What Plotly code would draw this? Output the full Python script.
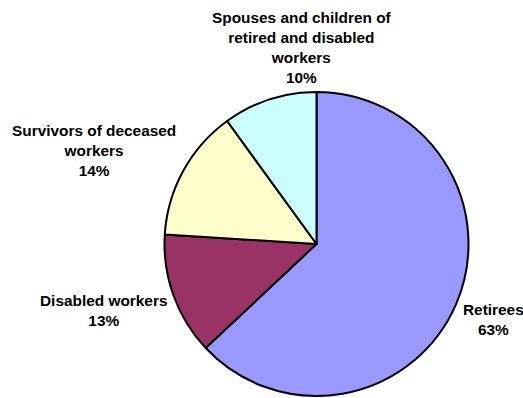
import plotly.graph_objects as go

# Share of beneficiaries by category
categories = [
    "Retirees",
    "Disabled workers",
    "Survivors of deceased workers",
    "Spouses and children of retired and disabled workers",
]
# Line-wrapped versions of the category names for the outside labels
label_lines = [
    ["Retirees"],
    ["Disabled workers"],
    ["Survivors of deceased", "workers"],
    ["Spouses and children of", "retired and disabled", "workers"],
]
shares = [63, 13, 14, 10]
colors = ["#9999FF", "#993366", "#FFFFCC", "#CCFFFF"]

W, H = 523, 398

fig = go.Figure(
    go.Pie(
        labels=categories,
        values=shares,
        sort=False,
        direction="clockwise",
        rotation=0,
        textinfo="none",
        hoverinfo="label+percent",
        marker=dict(colors=colors, line=dict(color="black", width=2)),
        domain=dict(x=[164.5 / W, 468.5 / W], y=[2 / H, 306 / H]),
        showlegend=False,
    )
)

# Label anchor points (pixel centres of each text block)
label_pos = [(493, 319), (103, 310), (94, 150), (302, 47)]

for lines, share, (px, py) in zip(label_lines, shares, label_pos):
    text = "<br>".join(f"<b>{ln}</b>" for ln in lines) + f"<br><b>{share}%</b>"
    fig.add_annotation(
        x=px / W,
        y=1 - py / H,
        xref="paper",
        yref="paper",
        text=text,
        showarrow=False,
        xanchor="center",
        yanchor="middle",
        align="center",
        font=dict(family="Liberation Sans, Arial, sans-serif", size=15.4, color="black"),
    )

fig.update_layout(
    width=W,
    height=H,
    margin=dict(l=0, r=0, t=0, b=0),
    paper_bgcolor="white",
    plot_bgcolor="white",
)

fig.write_html("out.html")
